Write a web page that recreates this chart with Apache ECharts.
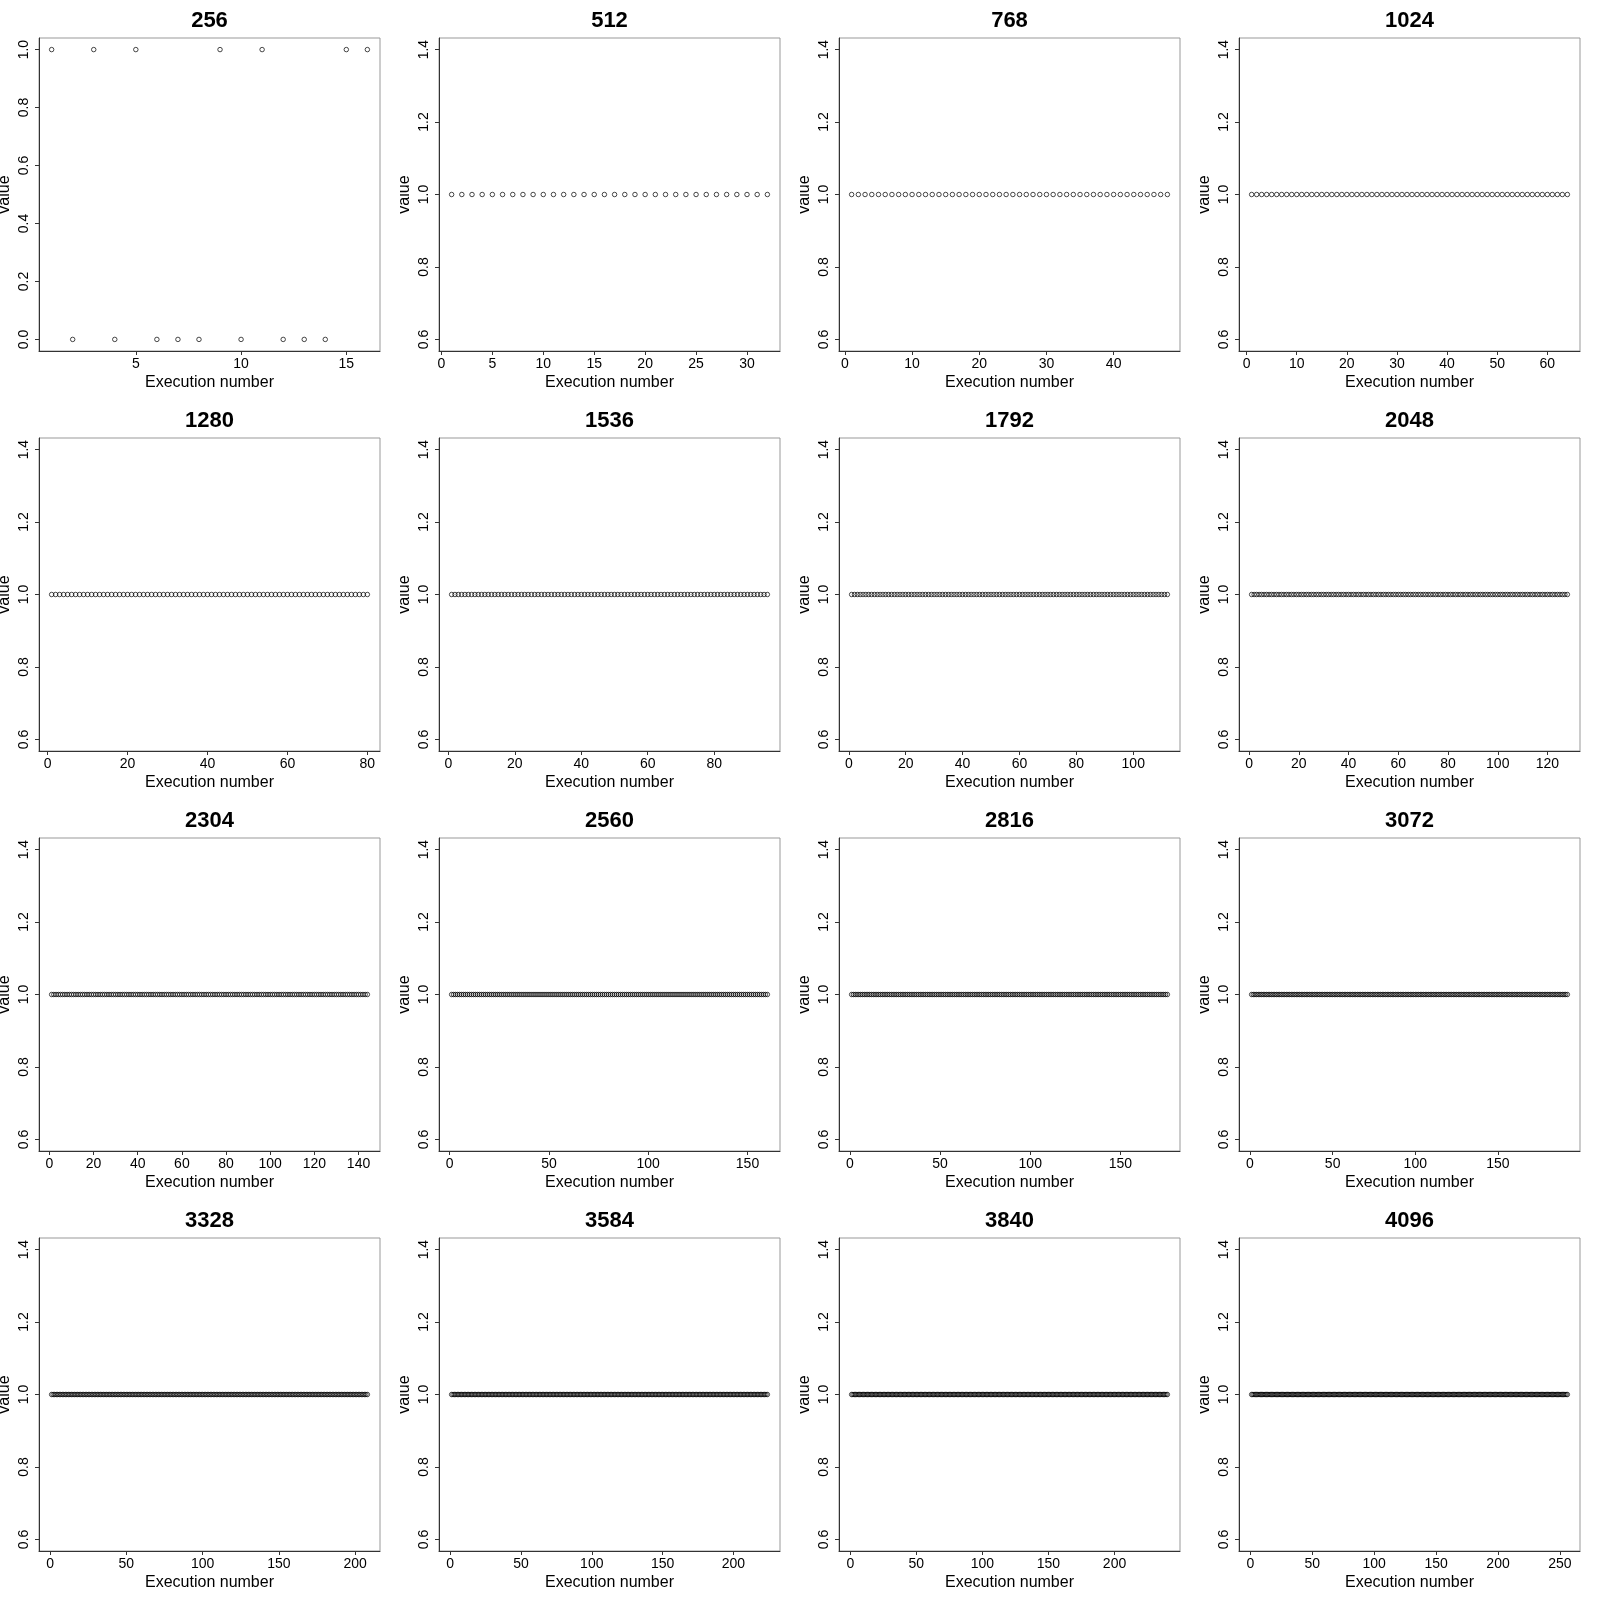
<!DOCTYPE html>
<html>
<head>
<meta charset="utf-8">
<script src="https://cdn.jsdelivr.net/npm/echarts@6/dist/echarts.min.js"></script>
<style>
html, body { margin: 0; padding: 0; background: #fff; }
#wrap { position: relative; width: 1600px; height: 1600px; background: #fff; }
.p { position: absolute; width: 400px; height: 400px; }
</style>
</head>
<body>
<div id="wrap"></div>
<script>
// ---------- DATA ----------
const panelTitles = ['256', '512', '768', '1024', '1280', '1536', '1792', '2048',
                     '2304', '2560', '2816', '3072', '3328', '3584', '3840', '4096'];

const values256 = [1,0,1,0,1,0,0,0,1,0,1,0,0,0,1,1];
const values512 = [
1,1,1,1,1,1,1,1,1,1,1,1,1,1,1,1,
1,1,1,1,1,1,1,1,1,1,1,1,1,1,1,1];
const values768 = [
1,1,1,1,1,1,1,1,1,1,1,1,1,1,1,1,
1,1,1,1,1,1,1,1,1,1,1,1,1,1,1,1,
1,1,1,1,1,1,1,1,1,1,1,1,1,1,1,1];
const values1024 = [
1,1,1,1,1,1,1,1,1,1,1,1,1,1,1,1,
1,1,1,1,1,1,1,1,1,1,1,1,1,1,1,1,
1,1,1,1,1,1,1,1,1,1,1,1,1,1,1,1,
1,1,1,1,1,1,1,1,1,1,1,1,1,1,1,1];
const values1280 = [
1,1,1,1,1,1,1,1,1,1,1,1,1,1,1,1,
1,1,1,1,1,1,1,1,1,1,1,1,1,1,1,1,
1,1,1,1,1,1,1,1,1,1,1,1,1,1,1,1,
1,1,1,1,1,1,1,1,1,1,1,1,1,1,1,1,
1,1,1,1,1,1,1,1,1,1,1,1,1,1,1,1];
const values1536 = [
1,1,1,1,1,1,1,1,1,1,1,1,1,1,1,1,
1,1,1,1,1,1,1,1,1,1,1,1,1,1,1,1,
1,1,1,1,1,1,1,1,1,1,1,1,1,1,1,1,
1,1,1,1,1,1,1,1,1,1,1,1,1,1,1,1,
1,1,1,1,1,1,1,1,1,1,1,1,1,1,1,1,
1,1,1,1,1,1,1,1,1,1,1,1,1,1,1,1];
const values1792 = [
1,1,1,1,1,1,1,1,1,1,1,1,1,1,1,1,
1,1,1,1,1,1,1,1,1,1,1,1,1,1,1,1,
1,1,1,1,1,1,1,1,1,1,1,1,1,1,1,1,
1,1,1,1,1,1,1,1,1,1,1,1,1,1,1,1,
1,1,1,1,1,1,1,1,1,1,1,1,1,1,1,1,
1,1,1,1,1,1,1,1,1,1,1,1,1,1,1,1,
1,1,1,1,1,1,1,1,1,1,1,1,1,1,1,1];
const values2048 = [
1,1,1,1,1,1,1,1,1,1,1,1,1,1,1,1,
1,1,1,1,1,1,1,1,1,1,1,1,1,1,1,1,
1,1,1,1,1,1,1,1,1,1,1,1,1,1,1,1,
1,1,1,1,1,1,1,1,1,1,1,1,1,1,1,1,
1,1,1,1,1,1,1,1,1,1,1,1,1,1,1,1,
1,1,1,1,1,1,1,1,1,1,1,1,1,1,1,1,
1,1,1,1,1,1,1,1,1,1,1,1,1,1,1,1,
1,1,1,1,1,1,1,1,1,1,1,1,1,1,1,1];
const values2304 = [
1,1,1,1,1,1,1,1,1,1,1,1,1,1,1,1,
1,1,1,1,1,1,1,1,1,1,1,1,1,1,1,1,
1,1,1,1,1,1,1,1,1,1,1,1,1,1,1,1,
1,1,1,1,1,1,1,1,1,1,1,1,1,1,1,1,
1,1,1,1,1,1,1,1,1,1,1,1,1,1,1,1,
1,1,1,1,1,1,1,1,1,1,1,1,1,1,1,1,
1,1,1,1,1,1,1,1,1,1,1,1,1,1,1,1,
1,1,1,1,1,1,1,1,1,1,1,1,1,1,1,1,
1,1,1,1,1,1,1,1,1,1,1,1,1,1,1,1];
const values2560 = [
1,1,1,1,1,1,1,1,1,1,1,1,1,1,1,1,
1,1,1,1,1,1,1,1,1,1,1,1,1,1,1,1,
1,1,1,1,1,1,1,1,1,1,1,1,1,1,1,1,
1,1,1,1,1,1,1,1,1,1,1,1,1,1,1,1,
1,1,1,1,1,1,1,1,1,1,1,1,1,1,1,1,
1,1,1,1,1,1,1,1,1,1,1,1,1,1,1,1,
1,1,1,1,1,1,1,1,1,1,1,1,1,1,1,1,
1,1,1,1,1,1,1,1,1,1,1,1,1,1,1,1,
1,1,1,1,1,1,1,1,1,1,1,1,1,1,1,1,
1,1,1,1,1,1,1,1,1,1,1,1,1,1,1,1];
const values2816 = [
1,1,1,1,1,1,1,1,1,1,1,1,1,1,1,1,
1,1,1,1,1,1,1,1,1,1,1,1,1,1,1,1,
1,1,1,1,1,1,1,1,1,1,1,1,1,1,1,1,
1,1,1,1,1,1,1,1,1,1,1,1,1,1,1,1,
1,1,1,1,1,1,1,1,1,1,1,1,1,1,1,1,
1,1,1,1,1,1,1,1,1,1,1,1,1,1,1,1,
1,1,1,1,1,1,1,1,1,1,1,1,1,1,1,1,
1,1,1,1,1,1,1,1,1,1,1,1,1,1,1,1,
1,1,1,1,1,1,1,1,1,1,1,1,1,1,1,1,
1,1,1,1,1,1,1,1,1,1,1,1,1,1,1,1,
1,1,1,1,1,1,1,1,1,1,1,1,1,1,1,1];
const values3072 = [
1,1,1,1,1,1,1,1,1,1,1,1,1,1,1,1,
1,1,1,1,1,1,1,1,1,1,1,1,1,1,1,1,
1,1,1,1,1,1,1,1,1,1,1,1,1,1,1,1,
1,1,1,1,1,1,1,1,1,1,1,1,1,1,1,1,
1,1,1,1,1,1,1,1,1,1,1,1,1,1,1,1,
1,1,1,1,1,1,1,1,1,1,1,1,1,1,1,1,
1,1,1,1,1,1,1,1,1,1,1,1,1,1,1,1,
1,1,1,1,1,1,1,1,1,1,1,1,1,1,1,1,
1,1,1,1,1,1,1,1,1,1,1,1,1,1,1,1,
1,1,1,1,1,1,1,1,1,1,1,1,1,1,1,1,
1,1,1,1,1,1,1,1,1,1,1,1,1,1,1,1,
1,1,1,1,1,1,1,1,1,1,1,1,1,1,1,1];
const values3328 = [
1,1,1,1,1,1,1,1,1,1,1,1,1,1,1,1,
1,1,1,1,1,1,1,1,1,1,1,1,1,1,1,1,
1,1,1,1,1,1,1,1,1,1,1,1,1,1,1,1,
1,1,1,1,1,1,1,1,1,1,1,1,1,1,1,1,
1,1,1,1,1,1,1,1,1,1,1,1,1,1,1,1,
1,1,1,1,1,1,1,1,1,1,1,1,1,1,1,1,
1,1,1,1,1,1,1,1,1,1,1,1,1,1,1,1,
1,1,1,1,1,1,1,1,1,1,1,1,1,1,1,1,
1,1,1,1,1,1,1,1,1,1,1,1,1,1,1,1,
1,1,1,1,1,1,1,1,1,1,1,1,1,1,1,1,
1,1,1,1,1,1,1,1,1,1,1,1,1,1,1,1,
1,1,1,1,1,1,1,1,1,1,1,1,1,1,1,1,
1,1,1,1,1,1,1,1,1,1,1,1,1,1,1,1];
const values3584 = [
1,1,1,1,1,1,1,1,1,1,1,1,1,1,1,1,
1,1,1,1,1,1,1,1,1,1,1,1,1,1,1,1,
1,1,1,1,1,1,1,1,1,1,1,1,1,1,1,1,
1,1,1,1,1,1,1,1,1,1,1,1,1,1,1,1,
1,1,1,1,1,1,1,1,1,1,1,1,1,1,1,1,
1,1,1,1,1,1,1,1,1,1,1,1,1,1,1,1,
1,1,1,1,1,1,1,1,1,1,1,1,1,1,1,1,
1,1,1,1,1,1,1,1,1,1,1,1,1,1,1,1,
1,1,1,1,1,1,1,1,1,1,1,1,1,1,1,1,
1,1,1,1,1,1,1,1,1,1,1,1,1,1,1,1,
1,1,1,1,1,1,1,1,1,1,1,1,1,1,1,1,
1,1,1,1,1,1,1,1,1,1,1,1,1,1,1,1,
1,1,1,1,1,1,1,1,1,1,1,1,1,1,1,1,
1,1,1,1,1,1,1,1,1,1,1,1,1,1,1,1];
const values3840 = [
1,1,1,1,1,1,1,1,1,1,1,1,1,1,1,1,
1,1,1,1,1,1,1,1,1,1,1,1,1,1,1,1,
1,1,1,1,1,1,1,1,1,1,1,1,1,1,1,1,
1,1,1,1,1,1,1,1,1,1,1,1,1,1,1,1,
1,1,1,1,1,1,1,1,1,1,1,1,1,1,1,1,
1,1,1,1,1,1,1,1,1,1,1,1,1,1,1,1,
1,1,1,1,1,1,1,1,1,1,1,1,1,1,1,1,
1,1,1,1,1,1,1,1,1,1,1,1,1,1,1,1,
1,1,1,1,1,1,1,1,1,1,1,1,1,1,1,1,
1,1,1,1,1,1,1,1,1,1,1,1,1,1,1,1,
1,1,1,1,1,1,1,1,1,1,1,1,1,1,1,1,
1,1,1,1,1,1,1,1,1,1,1,1,1,1,1,1,
1,1,1,1,1,1,1,1,1,1,1,1,1,1,1,1,
1,1,1,1,1,1,1,1,1,1,1,1,1,1,1,1,
1,1,1,1,1,1,1,1,1,1,1,1,1,1,1,1];
const values4096 = [
1,1,1,1,1,1,1,1,1,1,1,1,1,1,1,1,
1,1,1,1,1,1,1,1,1,1,1,1,1,1,1,1,
1,1,1,1,1,1,1,1,1,1,1,1,1,1,1,1,
1,1,1,1,1,1,1,1,1,1,1,1,1,1,1,1,
1,1,1,1,1,1,1,1,1,1,1,1,1,1,1,1,
1,1,1,1,1,1,1,1,1,1,1,1,1,1,1,1,
1,1,1,1,1,1,1,1,1,1,1,1,1,1,1,1,
1,1,1,1,1,1,1,1,1,1,1,1,1,1,1,1,
1,1,1,1,1,1,1,1,1,1,1,1,1,1,1,1,
1,1,1,1,1,1,1,1,1,1,1,1,1,1,1,1,
1,1,1,1,1,1,1,1,1,1,1,1,1,1,1,1,
1,1,1,1,1,1,1,1,1,1,1,1,1,1,1,1,
1,1,1,1,1,1,1,1,1,1,1,1,1,1,1,1,
1,1,1,1,1,1,1,1,1,1,1,1,1,1,1,1,
1,1,1,1,1,1,1,1,1,1,1,1,1,1,1,1,
1,1,1,1,1,1,1,1,1,1,1,1,1,1,1,1];

const panelValues = [values256, values512, values768, values1024,
                     values1280, values1536, values1792, values2048,
                     values2304, values2560, values2816, values3072,
                     values3328, values3584, values3840, values4096];

// x tick labels for each panel
const xTicks = [
  [5, 10, 15],
  [0, 5, 10, 15, 20, 25, 30],
  [0, 10, 20, 30, 40],
  [0, 10, 20, 30, 40, 50, 60],
  [0, 20, 40, 60, 80],
  [0, 20, 40, 60, 80],
  [0, 20, 40, 60, 80, 100],
  [0, 20, 40, 60, 80, 100, 120],
  [0, 20, 40, 60, 80, 100, 120, 140],
  [0, 50, 100, 150],
  [0, 50, 100, 150],
  [0, 50, 100, 150],
  [0, 50, 100, 150, 200],
  [0, 50, 100, 150, 200],
  [0, 50, 100, 150, 200],
  [0, 50, 100, 150, 200, 250]
];
// y tick labels
const yTickLabelsFirst = ['0.0', '0.2', '0.4', '0.6', '0.8', '1.0'];
const yTickLabelsOther = ['0.6', '0.8', '1.0', '1.2', '1.4'];

const xAxisTitle = 'Execution number';
const yAxisTitle = 'value';

// ---------- RENDER ----------
const FONT = '"Liberation Sans", Arial, Helvetica, sans-serif';
const AXIS_COLOR = '#333';

// R-style axis range: 4% extension; constant data expanded by +-40%
function rRange(lo, hi) {
  if (lo === hi) { const a = Math.abs(lo) * 0.4 || 1; lo = lo - a; hi = hi + a; }
  const d = (hi - lo) * 0.04;
  return [lo - d, hi + d];
}

const wrap = document.getElementById('wrap');
panelTitles.forEach(function (title, i) {
  const r = Math.floor(i / 4), c = i % 4;
  const div = document.createElement('div');
  div.className = 'p';
  div.style.left = (c * 400) + 'px';
  div.style.top = (r * 400) + 'px';
  wrap.appendChild(div);
  const chart = echarts.init(div, null, { renderer: 'canvas', width: 400, height: 400 });

  const vals = panelValues[i];
  const N = vals.length;
  const xr = rRange(1, N);
  const yr = rRange(Math.min.apply(null, vals), Math.max.apply(null, vals));
  const yLabels = i === 0 ? yTickLabelsFirst : yTickLabelsOther;
  const yVals = yLabels.map(Number);

  chart.setOption({
    animation: false,
    title: {
      text: title,
      left: 209.5,
      textAlign: 'center',
      top: 10,
      padding: 0,
      textStyle: { fontFamily: FONT, fontSize: 22, fontWeight: 'bold', color: '#000' }
    },
    grid: {
      left: 39, right: 20, top: 38, bottom: 49,
      containLabel: false,
      outerBoundsMode: 'none',
      show: true, borderColor: '#999', borderWidth: 1, backgroundColor: 'transparent'
    },
    xAxis: {
      type: 'value',
      min: xr[0], max: xr[1],
      name: xAxisTitle,
      nameLocation: 'middle',
      nameGap: 24,
      nameMoveOverlap: false,
      nameTextStyle: { fontFamily: FONT, fontSize: 16, color: '#000' },
      axisLine: { show: true, onZero: false, lineStyle: { color: AXIS_COLOR, width: 1 } },
      axisTick: { show: true, length: 4, inside: false, lineStyle: { color: AXIS_COLOR, width: 1 }, customValues: xTicks[i] },
      axisLabel: { show: true, customValues: xTicks[i], fontFamily: FONT, fontSize: 14, color: '#000', margin: 6 },
      splitLine: { show: false }
    },
    yAxis: {
      type: 'value',
      min: yr[0], max: yr[1],
      name: yAxisTitle,
      nameLocation: 'middle',
      nameRotate: 90,
      nameGap: 26,
      nameMoveOverlap: false,
      nameTextStyle: { fontFamily: FONT, fontSize: 16, color: '#000' },
      axisLine: { show: true, onZero: false, lineStyle: { color: AXIS_COLOR, width: 1 } },
      axisTick: { show: true, length: 4, inside: false, lineStyle: { color: AXIS_COLOR, width: 1 }, customValues: yVals },
      axisLabel: {
        show: true, customValues: yVals, rotate: 90, margin: 8,
        fontFamily: FONT, fontSize: 14, color: '#000',
        formatter: function (v) {
          let best = 0;
          for (let k = 1; k < yVals.length; k++) if (Math.abs(yVals[k] - v) < Math.abs(yVals[best] - v)) best = k;
          return yLabels[best];
        }
      },
      splitLine: { show: false }
    },
    series: [{
      type: 'scatter',
      silent: true,
      data: vals.map(function (v, k) { return [k + 1, v]; }),
      symbol: 'circle',
      symbolSize: 4.5,
      itemStyle: { color: 'rgba(0,0,0,0)', borderColor: '#000', borderWidth: 0.9 }
    }]
  });
});
</script>
</body>
</html>
